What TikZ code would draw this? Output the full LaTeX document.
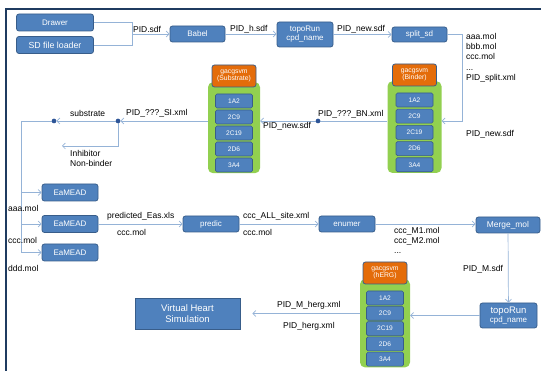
\documentclass[tikz,border=0pt]{standalone}
\usepackage{fontspec}
\setmainfont{Liberation Sans}
\usetikzlibrary{arrows.meta}

\definecolor{boxblue}{HTML}{4F81BD}
\definecolor{boxline}{HTML}{385D8A}
\definecolor{cyporange}{HTML}{E46C0A}
\definecolor{cypgreen}{HTML}{92D050}
\definecolor{linkblue}{HTML}{95B3D7}
\definecolor{frameblue}{HTML}{1F3B60}
\definecolor{dotblue}{HTML}{2E5597}

\tikzset{
  box/.style={draw=boxline, fill=boxblue, rounded corners=2.5pt, text=white,
    font=\fontsize{8}{9}\selectfont, minimum width=56, minimum height=16,
    inner sep=1pt, align=center, line width=0.8pt},
  cypbg/.style={fill=cypgreen, rounded corners=5pt, inner sep=0pt},
  cyphead/.style={draw=boxline, fill=cyporange, rounded corners=2.5pt, text=white,
    font=\fontsize{6.8}{7.2}\selectfont, minimum width=44, minimum height=22,
    inner sep=0pt, align=center, line width=0.8pt},
  cypitem/.style={draw=boxline, fill=boxblue, rounded corners=1.5pt, text=white,
    font=\fontsize{6.6}{7}\selectfont, minimum width=37, minimum height=14,
    inner sep=0pt, line width=0.6pt},
  lbl/.style={font=\fontsize{8.5}{10.3}\selectfont, inner sep=0pt, anchor=west},
  link/.style={draw=linkblue, line width=0.7pt},
  arr/.style={link, -{Straight Barb[length=3pt, width=6pt]}},
  dot/.style={circle, fill=dotblue, inner sep=0pt, minimum size=4.5pt},
}

\begin{document}
\begin{tikzpicture}[x=1pt, y=-1pt]
\useasboundingbox (0,0) rectangle (541,371);
% frame
\draw[frameblue, line width=2pt] (6,371) -- (6,9) -- (541,9);

% boxes
\node[box, minimum width=77, minimum height=17] (drawer) at (55,22.5) {Drawer};
\node[box, minimum width=77, minimum height=17, font=\fontsize{8.8}{10}\selectfont] (sd) at (55,45) {SD file loader};
\node[box, minimum width=55] (babel) at (197.5,34) {Babel};
\node[box, minimum height=25] (topo1) at (305,34.5) {topoRun\\cpd\_name};
\node[box, minimum width=55, minimum height=15] (split) at (419.5,34.5) {split\_sd};
\node[box, minimum height=17] (ea1) at (70,192.5) {EaMEAD};
\node[box, minimum height=17] (ea2) at (70,224) {EaMEAD};
\node[box, minimum height=17] (ea3) at (70,252.5) {EaMEAD};
\node[box] (predic) at (211,224) {predic};
\node[box] (enumer) at (347,224) {enumer};
\node[box, minimum width=64, font=\fontsize{8.4}{9}\selectfont] (merge) at (508,225) {Merge\_mol};
\node[box, minimum width=57, minimum height=25] (topo2) at (508.5,315.5)
  {{\fontsize{9.5}{10.5}\selectfont topoRun}\\cpd\_name};
\node[box, rounded corners=0pt, minimum width=105, minimum height=31,
  font=\fontsize{9.5}{11.5}\selectfont] (vhs) at (187.5,313.5) {Virtual Heart\\Simulation};

% gacgsvm stacks
\foreach \s/\x/\y/\sp/\w/\t in {sub/234/65/16/52/Substrate, bn/414.5/64/16.2/54/Binder, herg/385/262/15.3/50/hERG} {
  \node[cypbg, minimum width=\w, minimum height={4*\sp+27}, anchor=north] (\s-bg) at (\x,\y+17) {};
  \node[cyphead] (\s-head) at (\x,\y+11) {gacgsvm\\(\t)};
  \foreach \n [count=\i] in {1A2,2C9,2C19,2D6,3A4}
    \node[cypitem] (\s\i) at (\x,{\y+36+(\i-1)*\sp}) {\n};
}

% dots and bends
\node[dot] (bndot) at (318,121) {};
\node[dot] (sidot) at (118,121) {};
\node[dot] (subdot) at (54,121) {};
\coordinate (j1) at (132,34);
\coordinate (c1) at (462,121);
\coordinate (inh) at (62,146);
\coordinate (t0) at (21,121);

% connectors
\draw[link] (drawer.east) -| (j1);
\draw[link] (sd.east) -| (j1);
\draw[arr] (j1) -- (babel.west);
\draw[arr] (babel.east) -- (babel.east -| topo1.west);
\draw[arr] (topo1.east) -- (topo1.east -| split.west);
\draw[arr] (split.east) -| (c1) -- (c1 -| bn-bg.east);
\draw[link] (bndot -| bn-bg.west) -- (bndot);
\draw[arr] (bndot) -- (bndot -| sub-bg.east);
\draw[arr] (sidot -| sub-bg.west) -- (sidot);
\draw[arr] (sidot) -- (subdot);
\draw[arr] (sidot) |- (inh);
\draw[arr] (subdot) -- (t0) |- (ea3.west);
\draw[arr] (t0 |- ea1) -- (ea1.west);
\draw[arr] (t0 |- ea2) -- (ea2.west);
\draw[arr] (ea2) -- (predic);
\draw[arr] (predic) -- (enumer);
\draw[arr] (enumer.east) -- (enumer.east -| merge.west);
\draw[arr] (merge) -- (topo2);
\draw[arr] (topo2.west) -- (topo2.west -| herg-bg.east);
\draw[arr, shorten >=12pt] (vhs -| herg-bg.west) -- (vhs.east);
\node[dot] at (bndot) {};
\node[dot] at (sidot) {};
\node[dot] at (subdot) {};

% labels
\node[lbl] at (133,29) {PID.sdf};
\node[lbl] at (230,29) {PID\_h.sdf};
\node[lbl] at (337,29) {PID\_new.sdf};
\node[lbl, align=left, anchor=north west] at (466,33)
  {aaa.mol\\bbb.mol\\ccc.mol\\...\\PID\_split.xml};
\node[lbl] at (466,134) {PID\_new.sdf};
\node[lbl] at (318,114) {PID\_???\_BN.xml};
\node[lbl] at (263,126) {PID\_new.sdf};
\node[lbl] at (126,113) {PID\_???\_SI.xml};
\node[lbl] at (70,113) {substrate};
\node[lbl] at (70,153) {Inhibitor};
\node[lbl] at (70,163) {Non-binder};
\node[lbl] at (8,208) {aaa.mol};
\node[lbl] at (8,240) {ccc.mol};
\node[lbl] at (8,268) {ddd.mol};
\node[lbl] at (107,216) {predicted\_Eas.xls};
\node[lbl] at (117,232) {ccc.mol};
\node[lbl] at (243,216) {ccc\_ALL\_site.xml};
\node[lbl] at (243,232) {ccc.mol};
\node[lbl, align=left, anchor=north west] at (394,227) {ccc\_M1.mol\\ccc\_M2.mol\\...};
\node[lbl] at (463,269) {PID\_M.sdf};
\node[lbl] at (277,305) {PID\_M\_herg.xml};
\node[lbl] at (283,326) {PID\_herg.xml};
\end{tikzpicture}
\end{document}
